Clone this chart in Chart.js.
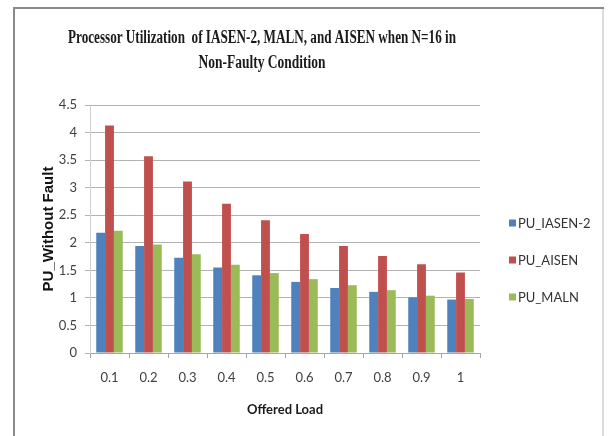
<!DOCTYPE html>
<html>
<head>
<meta charset="utf-8">
<script src="https://cdn.jsdelivr.net/npm/chart.js@4.4.1/dist/chart.umd.min.js"></script>
<style>
  html, body { margin: 0; padding: 0; background: #ffffff; }
  #wrap { width: 608px; height: 436px; position: relative; }
</style>
</head>
<body>
<div id="wrap"><canvas id="chart" width="608" height="436"></canvas></div>
<script>
// Offered load categories
const offeredLoad = ['0.1', '0.2', '0.3', '0.4', '0.5', '0.6', '0.7', '0.8', '0.9', '1'];

// Processor utilization per scheme (non-faulty, N=16)
const puIasen2 = [2.18, 1.94, 1.73, 1.55, 1.41, 1.29, 1.18, 1.11, 1.01, 0.97];
const puAisen  = [4.13, 3.57, 3.11, 2.71, 2.41, 2.16, 1.94, 1.76, 1.61, 1.46];
const puMaln   = [2.22, 1.97, 1.79, 1.60, 1.45, 1.34, 1.23, 1.14, 1.04, 0.98];

const titleLines = [
  'Processor Utilization  of IASEN-2, MALN, and AISEN when N=16 in',
  'Non-Faulty Condition'
];

// Outer frame and condensed serif title
const framePlugin = {
  id: 'frame',
  beforeDraw(chart) {
    const ctx = chart.ctx;
    ctx.save();
    ctx.fillStyle = '#ffffff';
    ctx.fillRect(0, 0, chart.width, chart.height);
    ctx.strokeStyle = '#8a8a8a';
    ctx.lineWidth = 2;
    ctx.beginPath();
    ctx.moveTo(14, 436);
    ctx.lineTo(14, 8);
    ctx.lineTo(604, 8);
    ctx.stroke();
    ctx.strokeStyle = '#dddddd';
    ctx.lineWidth = 2;
    ctx.beginPath();
    ctx.moveTo(603, 9);
    ctx.lineTo(603, 436);
    ctx.stroke();
    ctx.restore();
  },
  afterDraw(chart) {
    const ctx = chart.ctx;
    ctx.save();
    ctx.fillStyle = '#1a1a1a';
    ctx.font = 'bold 18px "Liberation Serif", "Times New Roman", serif';
    ctx.textAlign = 'center';
    ctx.textBaseline = 'alphabetic';
    const widths = [388, 127];
    const baselines = [43, 68];
    const cx = 262;
    titleLines.forEach((line, i) => {
      const w = ctx.measureText(line).width;
      const sx = widths[i] / w;
      ctx.save();
      ctx.translate(cx, baselines[i]);
      ctx.scale(sx, 1);
      ctx.fillText(line, 0, 0);
      ctx.restore();
    });
    ctx.restore();
  }
};

// Legend column on the right, built from the datasets
const sideLegend = {
  id: 'sideLegend',
  afterDraw(chart) {
    const ctx = chart.ctx;
    ctx.save();
    ctx.font = '13px Lato, "Open Sans", sans-serif';
    ctx.textBaseline = 'middle';
    ctx.textAlign = 'left';
    const rows = [223, 260, 297];
    chart.data.datasets.forEach((ds, i) => {
      const y = rows[i];
      ctx.fillStyle = ds.backgroundColor;
      ctx.fillRect(509, y - 3.5, 7, 7);
      ctx.fillStyle = '#333333';
      ctx.fillText(ds.label, 518, y + 0.5);
    });
    ctx.restore();
  }
};

new Chart(document.getElementById('chart'), {
  type: 'bar',
  data: {
    labels: offeredLoad,
    datasets: [
      { label: 'PU_IASEN-2', data: puIasen2, backgroundColor: '#4F81BD' },
      { label: 'PU_AISEN',   data: puAisen,  backgroundColor: '#C0504D' },
      { label: 'PU_MALN',    data: puMaln,   backgroundColor: '#9BBB59' }
    ]
  },
  options: {
    responsive: false,
    animation: false,
    devicePixelRatio: 1,
    layout: { padding: { left: 40, right: 128, top: 105, bottom: 10 } },
    datasets: {
      bar: { categoryPercentage: 0.68, barPercentage: 1.0, borderWidth: 0 }
    },
    plugins: {
      legend: { display: false },
      title: { display: false },
      tooltip: { enabled: false }
    },
    scales: {
      x: {
        afterFit(scale) { scale.height = 73; },
        grid: {
          display: true,
          drawOnChartArea: false,
          drawTicks: true,
          tickLength: 5,
          offset: true,
          color: '#a6a6a6'
        },
        border: { display: true, color: '#a6a6a6', width: 1 },
        ticks: {
          color: '#404040',
          font: { family: 'Lato, "Open Sans", sans-serif', size: 13 },
          padding: 12,
          maxRotation: 0
        },
        title: {
          display: true,
          text: 'Offered Load',
          color: '#1a1a1a',
          font: { family: 'Lato, "Open Sans", sans-serif', size: 13, weight: 'bold' },
          padding: { top: 0, bottom: 8 }
        }
      },
      y: {
        min: 0,
        max: 4.5,
        afterFit(scale) { scale.width = 50; },
        ticks: {
          stepSize: 0.5,
          color: '#404040',
          font: { family: 'Lato, "Open Sans", sans-serif', size: 13 },
          padding: 8,
          callback: (v) => String(Math.round(v * 10) / 10)
        },
        grid: {
          color: '#b3b3b3',
          tickLength: 5,
          drawTicks: true
        },
        border: { display: true, color: '#d0d0d0', width: 1 },
        title: {
          display: true,
          text: 'PU_Without Fault',
          color: '#111111',
          font: { family: '"Liberation Sans", Arial, sans-serif', size: 15, weight: 'bold' },
          padding: { top: 0, bottom: 0 }
        }
      }
    }
  },
  plugins: [framePlugin, sideLegend]
});
</script>
</body>
</html>
